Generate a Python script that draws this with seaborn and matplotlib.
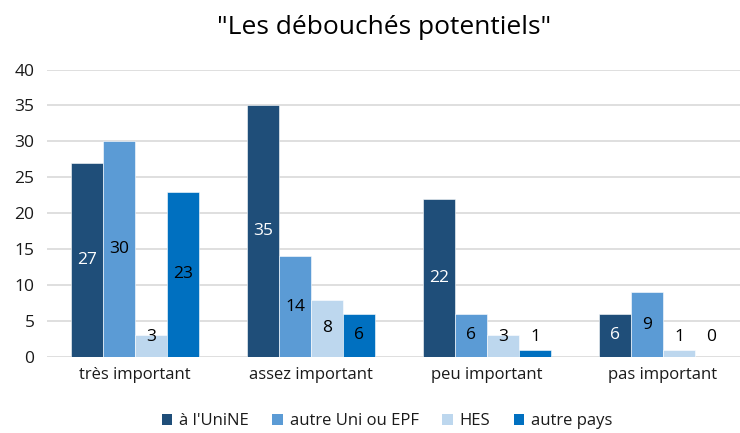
import matplotlib
matplotlib.use("Agg")
import matplotlib.pyplot as plt
import seaborn as sns
import pandas as pd

categories = ["très important", "assez important", "peu important", "pas important"]
series = ["à l'UniNE", "autre Uni ou EPF", "HES", "autre pays"]
v_unine = [27, 35, 22, 6]
v_autre_uni = [30, 14, 6, 9]
v_hes = [3, 8, 3, 1]
v_pays = [23, 6, 1, 0]
colors = ["#1F4E79", "#5B9BD5", "#BDD7EE", "#0070C0"]
label_colors = ["white", "black", "black", "black"]
yticks = [0, 5, 10, 15, 20, 25, 30, 35, 40]

sns.set_theme(style="white")
plt.rcParams['font.family'] = ['Open Sans', 'DejaVu Sans']

values = [v_unine, v_autre_uni, v_hes, v_pays]
rows = []
for s, vals in zip(series, values):
    for c, v in zip(categories, vals):
        rows.append({"cat": c, "serie": s, "val": v})
df = pd.DataFrame(rows)

fig = plt.figure(figsize=(7.4, 4.33), dpi=100)
W, H = 740, 433
ax = fig.add_axes([47 / W, 1 - 357 / H, 704 / W, 287.5 / H])

sns.barplot(data=df, x="cat", y="val", hue="serie", order=categories,
            hue_order=series, palette=colors, width=0.727, saturation=1,
            edgecolor="white", linewidth=0.4, ax=ax, legend=False)

ax.set_xlim(-0.5, 3.5)
ax.set_ylim(0, 40)
ax.set_yticks(yticks)
ax.set_yticklabels([str(t) for t in yticks], fontsize=12.5, color="#1a1a1a")
ax.tick_params(axis="x", labelsize=12, colors="#1a1a1a", length=0, pad=7)
ax.tick_params(axis="y", length=0, pad=9)
ax.set_xlabel("")
ax.set_ylabel("")
ax.yaxis.grid(True, color="#D9D9D9", linewidth=1.2)
ax.set_axisbelow(True)
for sp in ax.spines.values():
    sp.set_visible(False)

for cont, vals, lc in zip(ax.containers, values, label_colors):
    for patch, v in zip(cont.patches, vals):
        x = patch.get_x() + patch.get_width() / 2
        y = max(v / 2, 2.8)
        ax.text(x, y, str(v), ha="center", va="center", fontsize=12.5, color=lc)

fig.text(384 / W, 1 - 28 / H, '"Les débouchés potentiels"', ha="center", va="center",
         fontsize=19, color="black")

from matplotlib.patches import Patch
handles = [Patch(facecolor=c, edgecolor="none") for c in colors]
fig.legend(handles, series, loc="center", bbox_to_anchor=(387 / W, 1 - 421 / H), ncol=4,
           frameon=False, fontsize=12, handlelength=0.65, handleheight=0.65,
           handletextpad=0.4, columnspacing=1.4, labelcolor="#1a1a1a")

fig.savefig("out.png", dpi=100)
